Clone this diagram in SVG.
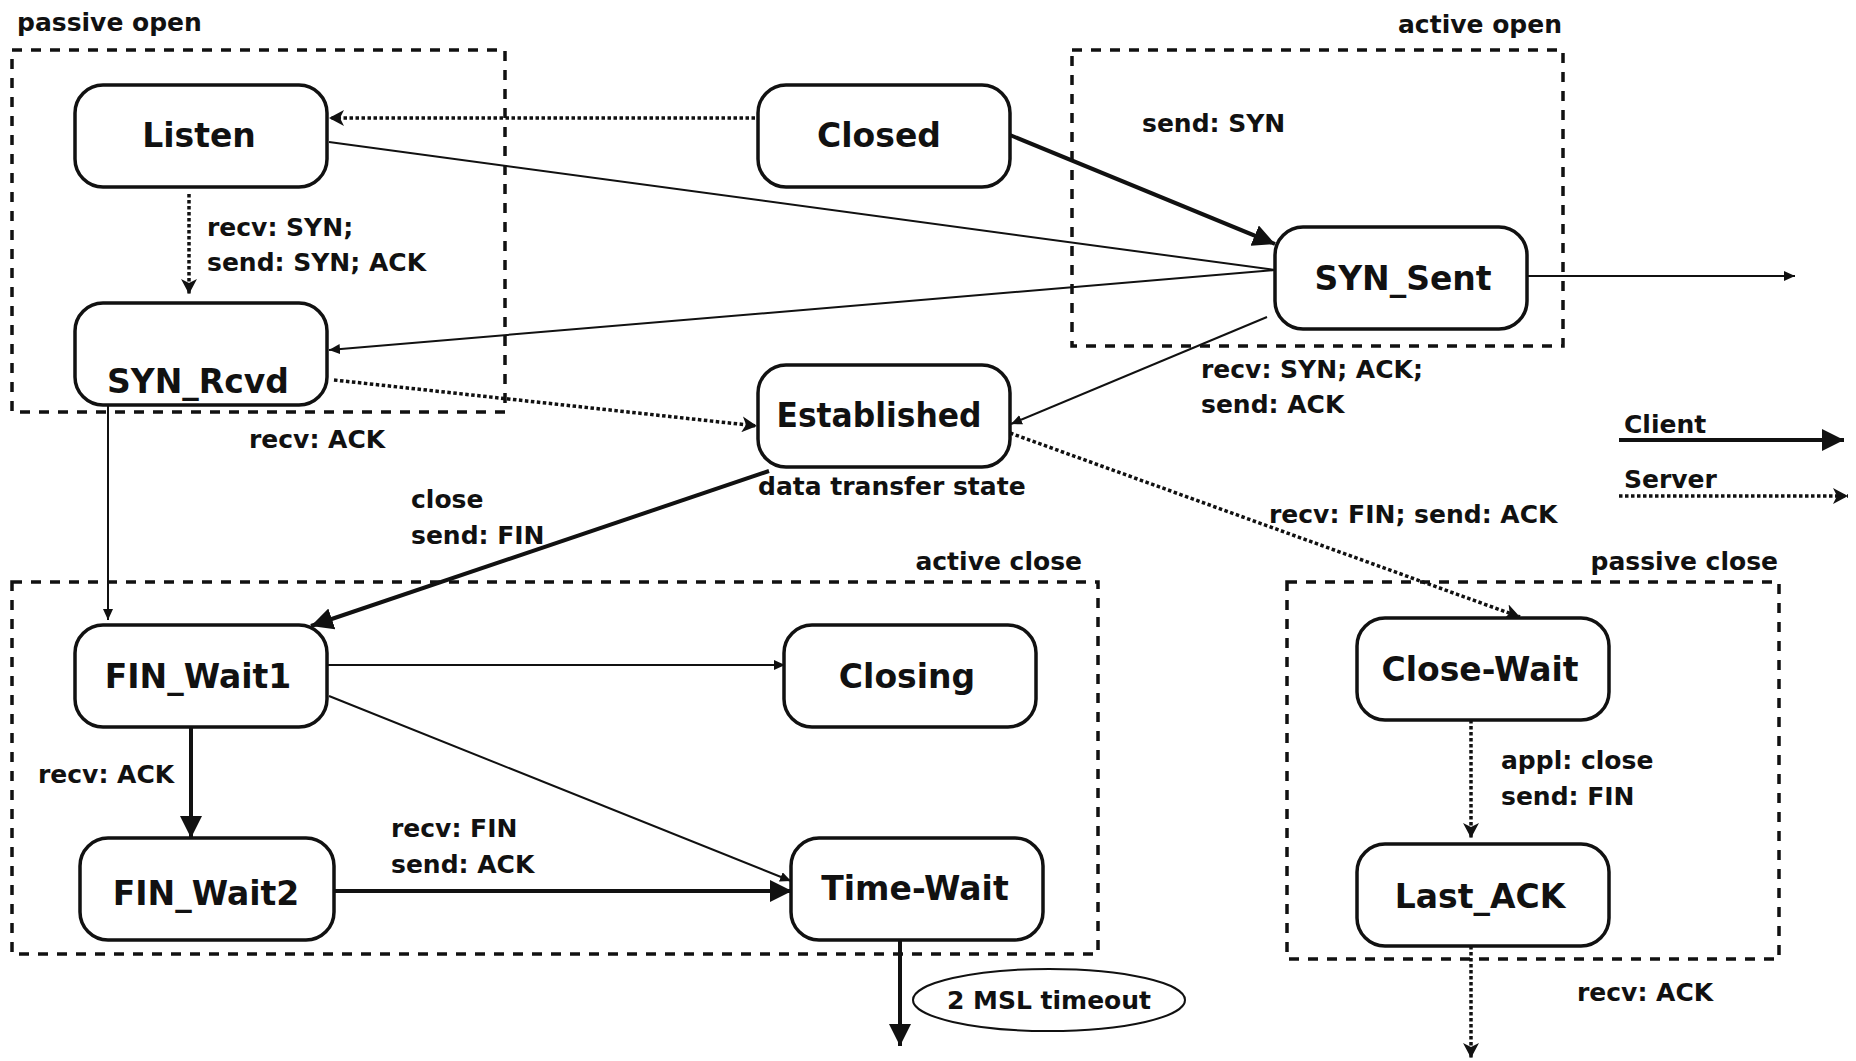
<svg xmlns="http://www.w3.org/2000/svg" width="1856" height="1061" viewBox="0 0 1856 1061">
<style>
text{font-family:"DejaVu Sans","Liberation Sans",sans-serif;font-weight:bold;fill:#111}
.n{font-size:33px;text-anchor:middle}
.l{font-size:25px}
.node rect{fill:#fff;stroke:#111;stroke-width:3.5}
.grp{fill:none;stroke:#111;stroke-width:3.5;stroke-dasharray:10 9}
.c{fill:none;stroke:#111}
.thin{stroke-width:2}
.thick{stroke-width:4}
.dot{stroke-width:3.5;stroke-dasharray:3.5 2.5}
</style>
<defs>
<marker id="big" markerUnits="userSpaceOnUse" markerWidth="24" markerHeight="22" refX="22" refY="11" orient="auto"><path d="M0,0 L22,11 L0,22 z" fill="#111"/></marker>
<marker id="sm" markerUnits="userSpaceOnUse" markerWidth="12" markerHeight="10" refX="11" refY="5" orient="auto"><path d="M0,0 L11,5 L0,10 z" fill="#111"/></marker>
<marker id="med" markerUnits="userSpaceOnUse" markerWidth="16" markerHeight="16" refX="15" refY="8" orient="auto"><path d="M0,0 L15,8 L0,16 L4,8 z" fill="#111"/></marker>
</defs>
<rect width="1856" height="1061" fill="#fff"/>
<g id="groups">
<rect class="grp" x="12" y="50" width="493" height="362"/>
<rect class="grp" x="1072" y="50" width="491" height="296"/>
<rect class="grp" x="12" y="582" width="1086" height="372"/>
<rect class="grp" x="1287" y="582" width="492" height="377"/>
<text class="l" x="17" y="31">passive open</text>
<text class="l" x="1562" y="33" text-anchor="end">active open</text>
<text class="l" x="1082" y="570" text-anchor="end">active close</text>
<text class="l" x="1778" y="570" text-anchor="end">passive close</text>
</g>
<g id="connectors">
<line class="c dot" x1="755" y1="118" x2="329" y2="118" marker-end="url(#med)"/>
<line class="c dot" x1="189" y1="194" x2="189" y2="294" marker-end="url(#med)"/>
<line class="c thick" x1="1010" y1="135" x2="1275" y2="244" marker-end="url(#big)"/>
<line class="c thin" x1="329" y1="142" x2="1275" y2="270"/>
<line class="c thin" x1="1275" y1="270" x2="329" y2="350" marker-end="url(#sm)"/>
<line class="c dot" x1="334" y1="380" x2="757" y2="426" marker-end="url(#med)"/>
<line class="c thin" x1="1267" y1="317" x2="1011" y2="424" marker-end="url(#sm)"/>
<line class="c thin" x1="1527" y1="276" x2="1795" y2="276" marker-end="url(#sm)"/>
<line class="c thin" x1="108" y1="402" x2="108" y2="620" marker-end="url(#sm)"/>
<line class="c thick" x1="769" y1="471" x2="311" y2="626" marker-end="url(#big)"/>
<line class="c dot" x1="1010" y1="433" x2="1520" y2="617" marker-end="url(#med)"/>
<line class="c thin" x1="327" y1="665" x2="785" y2="665" marker-end="url(#sm)"/>
<line class="c thin" x1="329" y1="696" x2="791" y2="881" marker-end="url(#sm)"/>
<line class="c thick" x1="191" y1="727" x2="191" y2="838" marker-end="url(#big)"/>
<line class="c thick" x1="334" y1="891" x2="792" y2="891" marker-end="url(#big)"/>
<line class="c thick" x1="900" y1="940" x2="900" y2="1046" marker-end="url(#big)"/>
<line class="c dot" x1="1471" y1="720" x2="1471" y2="838" marker-end="url(#med)"/>
<line class="c dot" x1="1471" y1="946" x2="1471" y2="1058" marker-end="url(#med)"/>
<line class="c thick" x1="1619" y1="440" x2="1844" y2="440" marker-end="url(#big)"/>
<line class="c dot" x1="1619" y1="496" x2="1848" y2="496" marker-end="url(#med)"/>
</g>
<g id="labels">
<text class="l" x="1142" y="132">send: SYN</text>
<text class="l" x="207" y="236">recv: SYN;</text>
<text class="l" x="207" y="271">send: SYN; ACK</text>
<text class="l" x="249" y="448">recv: ACK</text>
<text class="l" x="1201" y="378">recv: SYN; ACK;</text>
<text class="l" x="1201" y="413">send: ACK</text>
<text class="l" x="1624" y="433">Client</text>
<text class="l" x="1624" y="488">Server</text>
<text class="l" x="1269" y="523">recv: FIN; send: ACK</text>
<text class="l" x="411" y="508">close</text>
<text class="l" x="411" y="544">send: FIN</text>
<text class="l" x="758" y="495">data transfer state</text>
<text class="l" x="38" y="783">recv: ACK</text>
<text class="l" x="391" y="837">recv: FIN</text>
<text class="l" x="391" y="873">send: ACK</text>
<text class="l" x="1501" y="769">appl: close</text>
<text class="l" x="1501" y="805">send: FIN</text>
<text class="l" x="1577" y="1001">recv: ACK</text>
</g>
<g id="timeout"><ellipse cx="1049" cy="1000" rx="136" ry="31" fill="none" stroke="#111" stroke-width="2"/><text class="l" x="1049" y="1009" text-anchor="middle">2 MSL timeout</text></g>
<g id="Listen" class="node"><rect x="75" y="85" width="252" height="102" rx="28"/><text class="n" x="199" y="147">Listen</text></g>
<g id="SYN_Rcvd" class="node"><rect x="75" y="303" width="252" height="102" rx="28"/><text class="n" x="198" y="393">SYN_Rcvd</text></g>
<g id="Closed" class="node"><rect x="758" y="85" width="252" height="102" rx="28"/><text class="n" x="879" y="147">Closed</text></g>
<g id="SYN_Sent" class="node"><rect x="1275" y="227" width="252" height="102" rx="28"/><text class="n" x="1403" y="290">SYN_Sent</text></g>
<g id="Established" class="node"><rect x="758" y="365" width="252" height="102" rx="28"/><text class="n" x="879" y="427" textLength="205" lengthAdjust="spacingAndGlyphs">Established</text></g>
<g id="FIN_Wait1" class="node"><rect x="75" y="625" width="252" height="102" rx="28"/><text class="n" x="198" y="688">FIN_Wait1</text></g>
<g id="Closing" class="node"><rect x="784" y="625" width="252" height="102" rx="28"/><text class="n" x="907" y="688">Closing</text></g>
<g id="FIN_Wait2" class="node"><rect x="80" y="838" width="254" height="102" rx="28"/><text class="n" x="206" y="905">FIN_Wait2</text></g>
<g id="Time-Wait" class="node"><rect x="791" y="838" width="252" height="102" rx="28"/><text class="n" x="915" y="900">Time-Wait</text></g>
<g id="Close-Wait" class="node"><rect x="1357" y="618" width="252" height="102" rx="28"/><text class="n" x="1480" y="681">Close-Wait</text></g>
<g id="Last_ACK" class="node"><rect x="1357" y="844" width="252" height="102" rx="28"/><text class="n" x="1480" y="908">Last_ACK</text></g>
</svg>
